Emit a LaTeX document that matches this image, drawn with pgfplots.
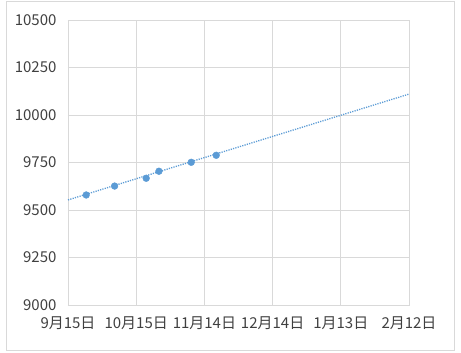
\documentclass[border=0pt]{standalone}
\usepackage{pgfplots}
\pgfplotsset{compat=1.18}
\usepackage{fontspec}
\setmainfont{Noto Sans CJK JP}
\definecolor{ser}{HTML}{5B9BD5}
\definecolor{gridc}{HTML}{D9D9D9}
\definecolor{txt}{HTML}{404040}
\begin{document}
\begin{tikzpicture}[x=1pt,y=1pt]
\useasboundingbox (0,0) rectangle (461,353);
\draw[gridc, line width=0.8pt] (6,3) rectangle (454,352);
\begin{axis}[
  at={(68pt,48pt)}, anchor=south west,
  scale only axis, width=341pt, height=285pt,
  xmin=0, xmax=150, ymin=9000, ymax=10500,
  xtick={0,30,60,90,120,150},
  xticklabels={9月15日,10月15日,11月14日,12月14日,1月13日,2月12日},
  ytick={9000,9250,9500,9750,10000,10250,10500},
  scaled y ticks=false,
  yticklabel style={/pgf/number format/1000 sep={}, /pgf/number format/fixed},
  /pgf/number format/assume math mode=true,
  ticklabel style={font=\fontsize{15}{17}\selectfont, text=txt},
  xticklabel style={yshift=-8pt},
  yticklabel style={xshift=-8pt},
  grid=major, major grid style={gridc, line width=0.8pt},
  axis line style={gridc, line width=0.8pt},
  major tick length=0pt,
  clip=false,
]
\addplot[ser, dash pattern=on 1.2pt off 1.2pt, line width=1.3pt] coordinates {(0,9553) (150,10110)};
\addplot[only marks, mark=*, mark size=3.4pt, mark options={draw=ser, fill=ser}] coordinates {
(8,9579) (20.5,9626) (34.4,9667) (40,9704) (54.2,9751) (65.2,9788)};
\end{axis}
\end{tikzpicture}
\end{document}
